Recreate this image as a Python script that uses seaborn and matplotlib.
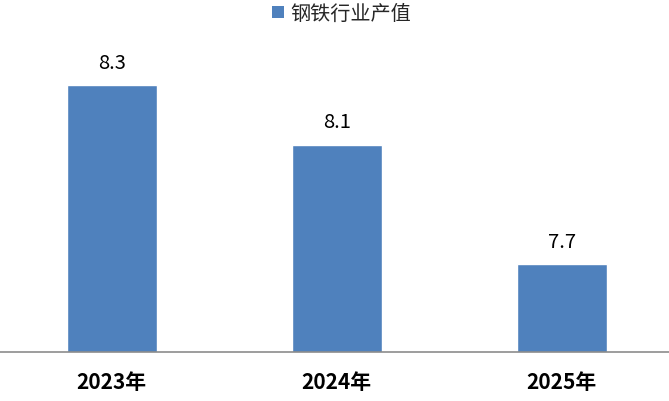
import matplotlib
matplotlib.use("Agg")
import matplotlib.pyplot as plt
import seaborn as sns
import pandas as pd
from matplotlib.patches import Patch

years = ["2023年", "2024年", "2025年"]
values = [8.3, 8.1, 7.7]
series_name = "钢铁行业产值"
bar_color = "#4F81BD"

sns.set_theme(style="white")
plt.rcParams['font.family'] = ['Noto Sans CJK SC', 'DejaVu Sans']

df = pd.DataFrame({"year": years, "value": values, "series": series_name})

fig = plt.figure(figsize=(6.69, 4.02), dpi=100)
ax = fig.add_axes([-0.001, 0.1219, 1.009, 0.816])
sns.barplot(data=df, x="year", y="value", color=bar_color, width=0.40,
            saturation=1, ax=ax, legend=False)

ax.set_ylim(7.405, 8.505)
ax.set_xlim(-0.5, 2.5)
ax.set_xlabel("")
ax.set_ylabel("")
ax.set_yticks([])
for s in ["left", "right", "top"]:
    ax.spines[s].set_visible(False)
ax.spines["bottom"].set_color("#8c8c8c")
ax.spines["bottom"].set_linewidth(1.2)
ax.tick_params(axis="x", length=0, pad=14)
for lab in ax.get_xticklabels():
    lab.set_fontweight("bold")
    lab.set_fontsize(15)
    lab.set_color("black")

for c in ax.containers:
    ax.bar_label(c, labels=[f"{v:.1f}" for v in values], padding=9,
                 fontsize=14.5, color="black")

handle = Patch(facecolor=bar_color, edgecolor="none")
fig.legend([handle], [series_name], loc="upper center",
           bbox_to_anchor=(0.51, 1.035), frameon=False, fontsize=14.5,
           handlelength=0.6, handleheight=0.6, handletextpad=0.3)

fig.savefig("out.png", dpi=100)
